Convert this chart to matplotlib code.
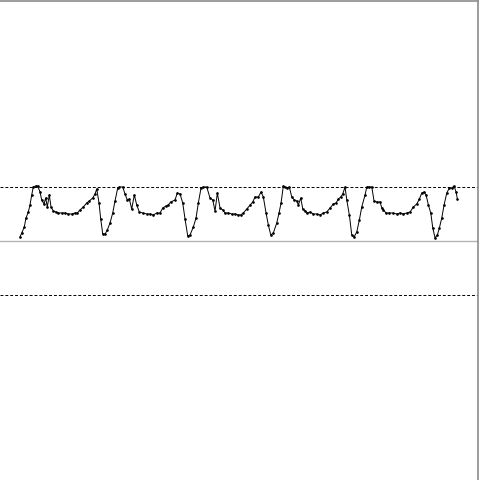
import matplotlib
matplotlib.use('Agg')
import matplotlib.pyplot as plt

# Tiempo (s) y valor de la señal
tiempo = [0.200, 0.217, 0.243, 0.260, 0.283, 0.300, 0.317, 0.333, 0.357, 0.377,
          0.400, 0.417, 0.440, 0.457, 0.473, 0.493, 0.510, 0.533, 0.557, 0.583,
          0.617, 0.650, 0.683, 0.717, 0.750, 0.773, 0.800, 0.833, 0.867, 0.893,
          0.927, 0.950, 0.967, 0.990, 1.007, 1.027, 1.050, 1.073, 1.100, 1.127,
          1.150, 1.177, 1.193, 1.227, 1.250, 1.273, 1.293, 1.317, 1.343, 1.367,
          1.393, 1.427, 1.467, 1.500, 1.533, 1.567, 1.600, 1.627, 1.660, 1.683,
          1.707, 1.750, 1.773, 1.800, 1.827, 1.850, 1.877, 1.900, 1.933, 1.960,
          1.983, 2.010, 2.033, 2.067, 2.100, 2.127, 2.150, 2.173, 2.200, 2.227,
          2.250, 2.283, 2.317, 2.350, 2.383, 2.407, 2.433, 2.467, 2.500, 2.527,
          2.550, 2.583, 2.610, 2.633, 2.660, 2.683, 2.707, 2.733, 2.767, 2.790,
          2.810, 2.833, 2.850, 2.873, 2.893, 2.917, 2.943, 2.967, 2.983, 3.007,
          3.027, 3.050, 3.073, 3.100, 3.133, 3.167, 3.200, 3.233, 3.267, 3.300,
          3.333, 3.360, 3.383, 3.407, 3.427, 3.450, 3.467, 3.493, 3.517, 3.540,
          3.567, 3.593, 3.617, 3.650, 3.667, 3.693, 3.717, 3.740, 3.767, 3.800,
          3.817, 3.833, 3.860, 3.893, 3.927, 3.967, 4.000, 4.033, 4.067, 4.100,
          4.133, 4.167, 4.193, 4.217, 4.240, 4.260, 4.283, 4.307, 4.327, 4.350,
          4.373, 4.393, 4.417, 4.440, 4.467, 4.493, 4.517, 4.540, 4.560, 4.573]

senal = [0.04, 0.08, 0.14, 0.23, 0.29, 0.36, 0.46, 0.54, 0.55, 0.55,
         0.49, 0.41, 0.37, 0.43, 0.34, 0.46, 0.34, 0.30, 0.29, 0.28,
         0.28, 0.28, 0.27, 0.27, 0.28, 0.28, 0.31, 0.34, 0.38, 0.40,
         0.43, 0.47, 0.52, 0.38, 0.22, 0.07, 0.07, 0.11, 0.18, 0.28,
         0.40, 0.53, 0.54, 0.54, 0.47, 0.41, 0.42, 0.32, 0.46, 0.36,
         0.29, 0.28, 0.27, 0.27, 0.26, 0.28, 0.28, 0.33, 0.35, 0.36,
         0.39, 0.41, 0.48, 0.47, 0.38, 0.22, 0.05, 0.06, 0.14, 0.23,
         0.38, 0.53, 0.54, 0.54, 0.43, 0.41, 0.30, 0.48, 0.33, 0.31,
         0.28, 0.28, 0.27, 0.27, 0.26, 0.26, 0.28, 0.32, 0.36, 0.39,
         0.44, 0.44, 0.49, 0.44, 0.28, 0.16, 0.06, 0.08, 0.18, 0.28,
         0.38, 0.55, 0.54, 0.53, 0.54, 0.44, 0.41, 0.40, 0.36, 0.43,
         0.32, 0.30, 0.28, 0.29, 0.27, 0.27, 0.26, 0.28, 0.29, 0.33,
         0.37, 0.38, 0.42, 0.44, 0.47, 0.54, 0.41, 0.26, 0.06, 0.04,
         0.09, 0.21, 0.34, 0.46, 0.54, 0.54, 0.54, 0.40, 0.39, 0.39,
         0.33, 0.31, 0.28, 0.28, 0.28, 0.27, 0.28, 0.27, 0.28, 0.29,
         0.34, 0.37, 0.42, 0.48, 0.49, 0.46, 0.36, 0.28, 0.13, 0.03,
         0.06, 0.13, 0.23, 0.36, 0.48, 0.53, 0.53, 0.55, 0.49, 0.42]

# Umbrales (líneas discontinuas)
umbral_sup = 0.54
umbral_inf = -0.54

fig = plt.figure(figsize=(4.8, 4.8), dpi=100)
ax = fig.add_axes([0, 0, 0.996, 0.998])

ax.axhline(0, color='#b4b4b4', linewidth=1.0, zorder=1)
ax.axhline(umbral_sup, color='black', linestyle=(0, (3, 2)), linewidth=0.7, zorder=1)
ax.axhline(umbral_inf, color='black', linestyle=(0, (3, 2)), linewidth=0.7, zorder=1)

ax.plot(tiempo, senal, color='black', linewidth=0.7, marker='o', markersize=0.9, zorder=2)

ax.set_xlim(0, 4.78)
ax.set_ylim(-2.39, 2.40)
ax.set_xticks([])
ax.set_yticks([])

# Solo bordes superior y derecho
ax.spines['left'].set_visible(False)
ax.spines['bottom'].set_visible(False)
ax.spines['top'].set_color('#8c8c8c')
ax.spines['right'].set_color('#8c8c8c')
ax.spines['top'].set_linewidth(1.2)
ax.spines['right'].set_linewidth(1.2)

fig.savefig('out.png', dpi=100)
